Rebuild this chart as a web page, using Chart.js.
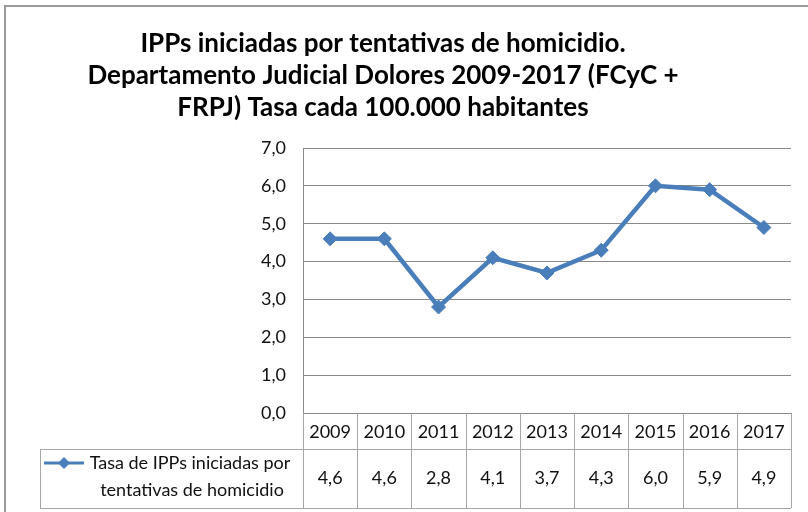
<!DOCTYPE html>
<html>
<head>
<meta charset="utf-8">
<script src="https://cdn.jsdelivr.net/npm/chart.js@4/dist/chart.umd.min.js"></script>
<style>
  html, body { margin: 0; padding: 0; background: #fff; }
  #wrap { width: 808px; height: 512px; }
</style>
</head>
<body>
<div id="wrap"><canvas id="chart" width="808" height="512"></canvas></div>
<script>
const years = ["2009", "2010", "2011", "2012", "2013", "2014", "2015", "2016", "2017"];
const rates = [4.6, 4.6, 2.8, 4.1, 3.7, 4.3, 6.0, 5.9, 4.9];
const yMin = 0, yMax = 7, yStep = 1;
const titleLines = [
  "IPPs iniciadas por tentativas de homicidio.",
  "Departamento Judicial Dolores 2009-2017 (FCyC +",
  "FRPJ) Tasa cada 100.000 habitantes",
];
const seriesLabel = ["Tasa de IPPs iniciadas por", "tentativas de homicidio"];

const lineColor = "#4A7EBB";
const gridColor = "#8a8a8a";
const tableColor = "#a6a6a6";
const font = "Lato, 'Liberation Sans', sans-serif";

const fmt = v => Number(v).toFixed(1).replace(".", ",");

// frame, title and data table drawn around the plot
const decorations = {
  id: "decorations",
  beforeDraw(chart) {
    const ctx = chart.ctx;
    ctx.save();
    ctx.fillStyle = "#fff";
    ctx.fillRect(0, 0, chart.width, chart.height);
    ctx.strokeStyle = "#9a9a9a";
    ctx.lineWidth = 2;
    ctx.strokeRect(5, 6, chart.width + 20, chart.height + 20);

    ctx.fillStyle = "#000";
    ctx.font = "bold 26px " + font;
    ctx.textAlign = "center";
    ctx.textBaseline = "middle";
    titleLines.forEach((t, i) => ctx.fillText(t, 383, 44 + i * 32));
    ctx.restore();
  },
  afterDraw(chart) {
    const ctx = chart.ctx;
    const x = chart.scales.x;
    const area = chart.chartArea;
    const colW = x.getPixelForValue(1) - x.getPixelForValue(0);
    const top = Math.round(area.bottom);
    const mid = top + 36;
    const bottom = mid + 59;
    const left = Math.round(area.left);
    const right = Math.round(area.right);
    const legendLeft = 40;

    ctx.save();
    ctx.strokeStyle = tableColor;
    ctx.lineWidth = 1;
    ctx.beginPath();
    ctx.moveTo(left, mid + 0.5); ctx.lineTo(right, mid + 0.5);
    ctx.moveTo(legendLeft, mid + 0.5); ctx.lineTo(left, mid + 0.5);
    ctx.moveTo(legendLeft, bottom + 0.5); ctx.lineTo(right, bottom + 0.5);
    ctx.moveTo(legendLeft + 0.5, mid); ctx.lineTo(legendLeft + 0.5, bottom);
    years.forEach((y, i) => {
      const bx = Math.round(x.getPixelForValue(i) - colW / 2) + 0.5;
      ctx.moveTo(bx, top); ctx.lineTo(bx, bottom);
    });
    ctx.moveTo(right + 0.5, top); ctx.lineTo(right + 0.5, bottom);
    ctx.stroke();

    ctx.fillStyle = "#111";
    ctx.font = "18px " + font;
    ctx.textAlign = "center";
    ctx.textBaseline = "middle";
    years.forEach((y, i) => {
      const cx = x.getPixelForValue(i);
      ctx.fillText(y, cx, (top + mid) / 2 + 1);
      ctx.fillText(fmt(rates[i]), cx, (mid + bottom) / 2);
    });

    // legend key inside the row header
    const ky = mid + 14;
    ctx.strokeStyle = lineColor;
    ctx.lineWidth = 3;
    ctx.beginPath();
    ctx.moveTo(44, ky); ctx.lineTo(84, ky);
    ctx.stroke();
    ctx.fillStyle = lineColor;
    ctx.beginPath();
    ctx.moveTo(64, ky - 6); ctx.lineTo(70, ky); ctx.lineTo(64, ky + 6); ctx.lineTo(58, ky);
    ctx.closePath();
    ctx.fill();

    ctx.fillStyle = "#111";
    ctx.fillText(seriesLabel[0], 190, ky);
    ctx.fillText(seriesLabel[1], 192, ky + 27);
    ctx.restore();
  }
};

new Chart(document.getElementById("chart"), {
  type: "line",
  data: {
    labels: years,
    datasets: [{
      label: seriesLabel.join(" "),
      data: rates,
      borderColor: lineColor,
      backgroundColor: lineColor,
      borderWidth: 4.5,
      pointStyle: "rectRot",
      pointRadius: 7,
      pointBorderWidth: 1,
      pointBackgroundColor: lineColor,
      tension: 0,
    }]
  },
  options: {
    responsive: false,
    animation: false,
    layout: { padding: { left: 40, right: 17, top: 148, bottom: 99 } },
    plugins: { legend: { display: false }, title: { display: false }, tooltip: { enabled: false } },
    scales: {
      x: { display: false, offset: true },
      y: {
        min: yMin,
        max: yMax,
        ticks: {
          stepSize: yStep,
          callback: v => fmt(v),
          color: "#111",
          font: { family: font, size: 18 },
          padding: 17,
        },
        grid: { color: gridColor, lineWidth: 1, drawTicks: false },
        border: { display: true, color: gridColor, width: 1 },
        afterFit: s => { s.width = 263; },
      }
    }
  },
  plugins: [decorations]
});
</script>
</body>
</html>
